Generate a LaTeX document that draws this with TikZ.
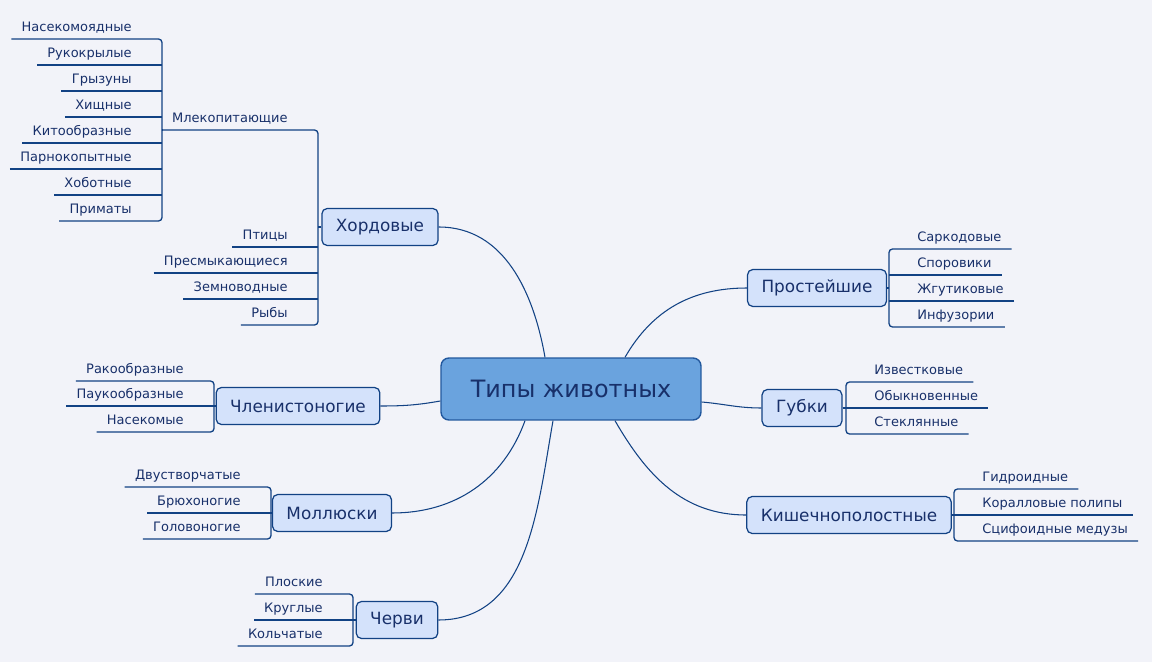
\documentclass[tikz,border=0pt]{standalone}
\usepackage{fontspec}
\setmainfont{DejaVu Sans}
\definecolor{bg}{RGB}{242,243,249}
\definecolor{edge}{RGB}{18,66,132}
\definecolor{ink}{RGB}{24,48,106}
\definecolor{topicfill}{RGB}{212,226,251}
\definecolor{rootfill}{RGB}{106,163,222}
\definecolor{rootedge}{RGB}{34,88,158}
\tikzset{
  root/.style={draw=rootedge, fill=rootfill, rounded corners=4.5pt, line width=0.8pt,
    minimum width=5.2cm, minimum height=1.24cm, text=ink, font=\fontsize{13.6}{16}\selectfont},
  topic/.style={draw=edge, fill=topicfill, rounded corners=3pt, line width=0.7pt,
    minimum height=0.74cm, inner xsep=0.28cm, text=ink, font=\fontsize{9.6}{12}\selectfont},
  leaf/.style={text=ink, font=\fontsize{7.4}{9}\selectfont, inner xsep=0.2cm, inner ysep=0pt,
    text height=0.2cm, text depth=0.14cm},
  branch/.style={draw=edge, line width=0.75pt, rounded corners=2pt},
  link/.style={draw=edge, line width=0.6pt}
}
\begin{document}
\begin{tikzpicture}[x=0.02cm, y=-0.02cm]
    % canvas 1152 x 662 px
    \useasboundingbox[fill=bg] (0, 0) rectangle (1152, 662);

    % centre and main topics
    \node[root] (root) at (571, 389) {Типы животных};
    \node[topic] (hord) at (380, 227) {Хордовые};
    \node[topic] (prost) at (817, 288) {Простейшие};
    \node[topic] (gubki) at (802, 408) {Губки};
    \node[topic] (kish) at (849, 515) {Кишечнополостные};
    \node[topic] (chlen) at (298, 406) {Членистоногие};
    \node[topic] (moll) at (332, 513) {Моллюски};
    \node[topic] (cherv) at (397, 620) {Черви};

    \draw[link] ([xshift=-0.52cm]root.north) to[out=100, in=0] (hord.east);
    \draw[link] ([xshift=1.08cm]root.north) to[out=60, in=180] (prost.west);
    \draw[link] ([yshift=-0.26cm]root.east) to[out=-5, in=180] (gubki.west);
    \draw[link] ([xshift=0.88cm]root.south) to[out=-60, in=180] (kish.west);
    \draw[link] ([yshift=-0.24cm]root.west) to[out=190, in=0] (chlen.east);
    \draw[link] ([xshift=-0.92cm]root.south) to[out=-110, in=0] (moll.east);
    \draw[link] ([xshift=-0.36cm]root.south) to[out=-100, in=0] (cherv.east);

    % Хордовые: bracket at x = 318
    \coordinate (bH) at (318, 227);
    \node[leaf, anchor=south east] (mlek) at (298, 130) {Млекопитающие};
    \node[leaf, anchor=south east] (ptic) at (298, 247) {Птицы};
    \node[leaf, anchor=south east] (presm) at (298, 273) {Пресмыкающиеся};
    \node[leaf, anchor=south east] (zemnov) at (298, 299) {Земноводные};
    \node[leaf, anchor=south east] (ryby) at (298, 325) {Рыбы};
    \draw[branch] (mlek.south west) -| (bH) |- (ryby.south west);
    \draw[branch] (ptic.south west) -- (ptic.south west -| bH);
    \draw[branch] (presm.south west) -- (presm.south west -| bH);
    \draw[branch] (zemnov.south west) -- (zemnov.south west -| bH);
    \draw[branch] (hord.west) -- (bH);

    % Млекопитающие: bracket at x = 162
    \coordinate (bM) at (162, 130);
    \node[leaf, anchor=south east] (nasek) at (142, 39) {Насекомоядные};
    \node[leaf, anchor=south east] (rukokr) at (142, 65) {Рукокрылые};
    \node[leaf, anchor=south east] (gryz) at (142, 91) {Грызуны};
    \node[leaf, anchor=south east] (hishch) at (142, 117) {Хищные};
    \node[leaf, anchor=south east] (kitoobr) at (142, 143) {Китообразные};
    \node[leaf, anchor=south east] (parnokop) at (142, 169) {Парнокопытные};
    \node[leaf, anchor=south east] (hobot) at (142, 195) {Хоботные};
    \node[leaf, anchor=south east] (primat) at (142, 221) {Приматы};
    \draw[branch] (nasek.south west) -| (bM) |- (primat.south west);
    \foreach \leafname in {rukokr, gryz, hishch, kitoobr, parnokop, hobot}
        \draw[branch] (\leafname.south west) -- (\leafname.south west -| bM);
    \draw[branch] (bM) -- (mlek.south west);

    % Простейшие: bracket at x = 889
    \coordinate (bP) at (889, 288);
    \node[leaf, anchor=south west] (sarko) at (907, 249) {Саркодовые};
    \node[leaf, anchor=south west] (sporo) at (907, 275) {Споровики};
    \node[leaf, anchor=south west] (zhgut) at (907, 301) {Жгутиковые};
    \node[leaf, anchor=south west] (infuz) at (907, 327) {Инфузории};
    \draw[branch] (sarko.south east) -| (bP) |- (infuz.south east);
    \draw[branch] (sporo.south east) -- (sporo.south east -| bP);
    \draw[branch] (zhgut.south east) -- (zhgut.south east -| bP);
    \draw[branch] (prost.east) -- (bP);

    % Губки: bracket at x = 846
    \coordinate (bG) at (846, 408);
    \node[leaf, anchor=south west] (izvest) at (864, 382) {Известковые};
    \node[leaf, anchor=south west] (obykn) at (864, 408) {Обыкновенные};
    \node[leaf, anchor=south west] (stekl) at (864, 434) {Стеклянные};
    \draw[branch] (izvest.south east) -| (bG) |- (stekl.south east);
    \draw[branch] (gubki.east) -- (obykn.south east);

    % Кишечнополостные: bracket at x = 954
    \coordinate (bK) at (954, 515);
    \node[leaf, anchor=south west] (gidro) at (972, 489) {Гидроидные};
    \node[leaf, anchor=south west] (koral) at (972, 515) {Коралловые полипы};
    \node[leaf, anchor=south west] (scif) at (972, 541) {Сцифоидные медузы};
    \draw[branch] (gidro.south east) -| (bK) |- (scif.south east);
    \draw[branch] (kish.east) -- (koral.south east);

    % Членистоногие: bracket at x = 214
    \coordinate (bC) at (214, 406);
    \node[leaf, anchor=south east] (rako) at (194, 381) {Ракообразные};
    \node[leaf, anchor=south east] (pauko) at (194, 406) {Паукообразные};
    \node[leaf, anchor=south east] (nasekom) at (194, 432) {Насекомые};
    \draw[branch] (rako.south west) -| (bC) |- (nasekom.south west);
    \draw[branch] (chlen.west) -- (pauko.south west);

    % Моллюски: bracket at x = 271
    \coordinate (bMo) at (271, 513);
    \node[leaf, anchor=south east] (dvustv) at (251, 487) {Двустворчатые};
    \node[leaf, anchor=south east] (bryuh) at (251, 513) {Брюхоногие};
    \node[leaf, anchor=south east] (golov) at (251, 539) {Головоногие};
    \draw[branch] (dvustv.south west) -| (bMo) |- (golov.south west);
    \draw[branch] (moll.west) -- (bryuh.south west);

    % Черви: bracket at x = 353
    \coordinate (bV) at (353, 620);
    \node[leaf, anchor=south east] (plosk) at (333, 594) {Плоские};
    \node[leaf, anchor=south east] (krugl) at (333, 620) {Круглые};
    \node[leaf, anchor=south east] (kolch) at (333, 646) {Кольчатые};
    \draw[branch] (plosk.south west) -| (bV) |- (kolch.south west);
    \draw[branch] (cherv.west) -- (krugl.south west);
\end{tikzpicture}
\end{document}
